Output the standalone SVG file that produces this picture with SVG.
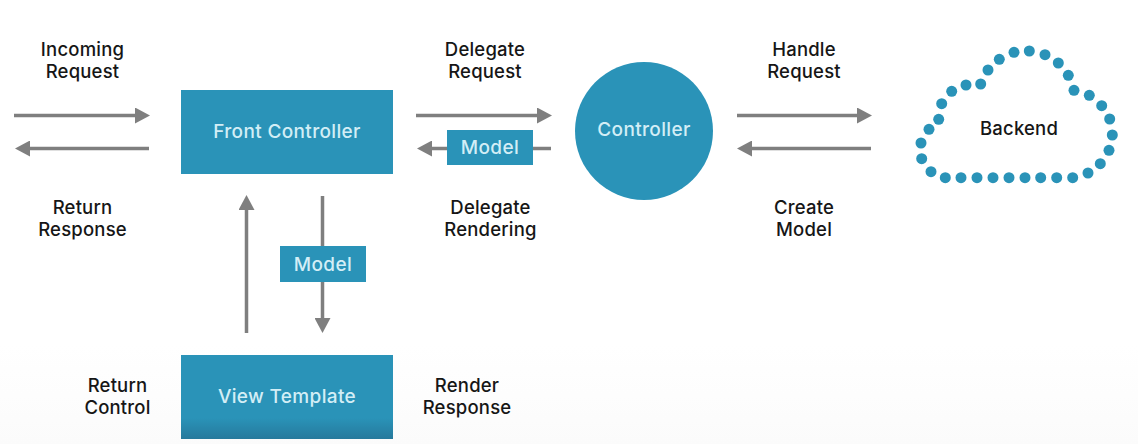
<svg xmlns="http://www.w3.org/2000/svg" xmlns:xlink="http://www.w3.org/1999/xlink" width="1138" height="444" viewBox="0 0 1138 444">
<style>
text{font-family:"Inter","Noto Sans","Liberation Sans",sans-serif;font-size:19px;font-weight:500;letter-spacing:.35px;text-anchor:middle}
.l{fill:#161616;font-size:18.500px;letter-spacing:.2px}
.w{fill:#d3eef6}
.b{fill:#2a93b8}
.c{stroke:#7f7f7f;stroke-width:3.5;fill:none;marker-end:url(#a)}
.d circle{fill:#2a93b8;r:5.500px}
</style>
<defs>
<marker id="a" markerUnits="userSpaceOnUse" markerWidth="16" markerHeight="16" refX="8" refY="8" orient="auto"><path d="M0 0L15 8L0 16z" fill="#7f7f7f"/></marker>
<linearGradient id="g" x1="0" y1="0" x2="0" y2="1"><stop offset="0.75" stop-color="#2a93b8"/><stop offset="1" stop-color="#26799c"/></linearGradient>
<linearGradient id="f" x1="0" y1="0" x2="0" y2="1"><stop offset="0" stop-color="#fff"/><stop offset="1" stop-color="#fbfbfb"/></linearGradient>
</defs>
<rect width="1138" height="444" fill="#fff"/>
<rect y="345" width="1138" height="99" fill="url(#f)"/>
<g id="connectors">
<path class="c" d="M14 115.500H143"/>
<path class="c" d="M149 148.500H22"/>
<path class="c" d="M416 115.500H545"/>
<path class="c" d="M551 148.500H424"/>
<path class="c" d="M737 115.500H865"/>
<path class="c" d="M871 148.500H744"/>
<path class="c" d="M246.500 333V202"/>
<path class="c" d="M322.500 196V326"/>
</g>
<g id="front-controller"><rect class="b" x="181" y="90" width="212" height="84"/><text class="w" x="287" y="138">Front Controller</text></g>
<g id="controller"><circle class="b" cx="644" cy="131" r="69"/><text class="w" x="644" y="136">Controller</text></g>
<g id="view-template"><rect x="181" y="355" width="212" height="84" fill="url(#g)"/><text class="w" x="287" y="403">View Template</text></g>
<g id="model-top"><rect class="b" x="447" y="130" width="86" height="35"/><text class="w" x="490" y="154">Model</text></g>
<g id="model-bottom"><rect class="b" x="280" y="246" width="86" height="36"/><text class="w" x="323" y="271">Model</text></g>
<g id="backend"><g class="d">
<circle cx="1029.300" cy="51"/><circle cx="1014" cy="52.300"/><circle cx="999.300" cy="59.300"/><circle cx="988" cy="70"/><circle cx="980.700" cy="84"/><circle cx="966" cy="85"/><circle cx="951.700" cy="91.300"/><circle cx="941.700" cy="103.700"/><circle cx="938.700" cy="119.300"/><circle cx="929" cy="129.300"/><circle cx="921" cy="143"/><circle cx="921.700" cy="158.700"/><circle cx="931" cy="171.700"/><circle cx="945.300" cy="177.700"/><circle cx="961" cy="177.700"/><circle cx="977" cy="177.700"/><circle cx="993" cy="177.700"/><circle cx="1009" cy="177.700"/><circle cx="1025" cy="177.700"/><circle cx="1040.700" cy="177.700"/><circle cx="1056.700" cy="177.700"/><circle cx="1072.700" cy="177.700"/><circle cx="1088" cy="173"/><circle cx="1100.300" cy="163.700"/><circle cx="1109" cy="150.300"/><circle cx="1112.300" cy="135"/><circle cx="1109.700" cy="119"/><circle cx="1101.700" cy="105.700"/><circle cx="1089.300" cy="95.300"/><circle cx="1074" cy="90.300"/><circle cx="1068.300" cy="75.300"/><circle cx="1058.300" cy="63"/><circle cx="1045" cy="54.700"/>
</g><text class="l" x="1019" y="135">Backend</text></g>
<g id="labels">
<text class="l" x="82.500" y="56">Incoming</text><text class="l" x="82.500" y="78">Request</text>
<text class="l" x="82.500" y="213.500">Return</text><text class="l" x="82.500" y="236">Response</text>
<text class="l" x="485" y="56">Delegate</text><text class="l" x="485" y="78">Request</text>
<text class="l" x="490.500" y="213.500">Delegate</text><text class="l" x="490.500" y="236">Rendering</text>
<text class="l" x="804" y="56">Handle</text><text class="l" x="804" y="78">Request</text>
<text class="l" x="804" y="213.500">Create</text><text class="l" x="804" y="236">Model</text>
<text class="l" x="117.500" y="391.500">Return</text><text class="l" x="117.500" y="414">Control</text>
<text class="l" x="467" y="391.500">Render</text><text class="l" x="467" y="414">Response</text>
</g>
</svg>
